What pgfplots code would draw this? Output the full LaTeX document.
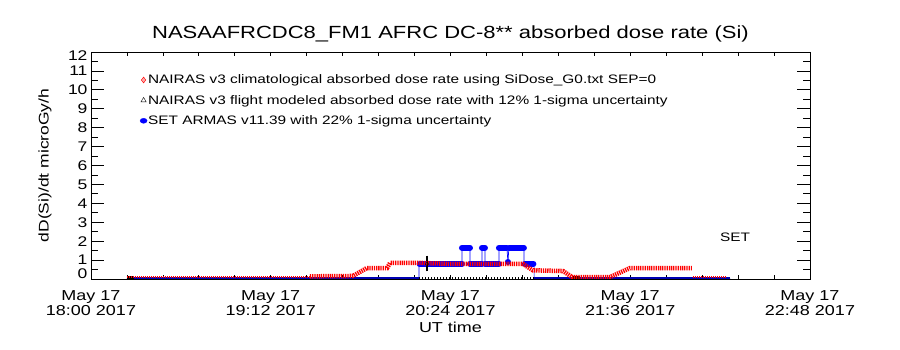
\documentclass[border=0pt]{standalone}
\usepackage{fontspec}
\setmainfont[FakeStretch=1.25]{Liberation Sans}
\usepackage{pgfplots}
\pgfplotsset{compat=1.18}
\begin{document}
\begin{tikzpicture}[x=1pt,y=1pt]
\useasboundingbox (0,0) rectangle (900,350);
\begin{axis}[
  at={(91pt,71pt)}, anchor=south west,
  width=719pt, height=227pt, scale only axis,
  xmin=0, xmax=288, ymin=0, ymax=12,
  xtick={0,72,144,216,288},
  xticklabels={{May 17\\18:00 2017},{May 17\\19:12 2017},{May 17\\20:24 2017},{May 17\\21:36 2017},{May 17\\22:48 2017}},
  minor x tick num=4,
  ytick={0,1,...,12}, minor y tick num=1,
  tick align=inside,
  major tick length=13pt, minor tick length=7pt,
  xtick style={/pgfplots/major tick length=4pt,/pgfplots/minor tick length=4pt},
  tick style={black, line width=0.8pt},
  axis line style={line width=0.8pt},
  /pgf/number format/assume math mode=true,
  xticklabel style={align=center, font=\fontsize{14.4}{15}\selectfont, yshift=-8pt},
  yticklabel style={font=\fontsize{14}{15}\selectfont, inner ysep=0pt,
    yshift={ifthenelse(\tick<0.5,5,ifthenelse(\tick>11.5,-4,0))}},
  title={NASAAFRCDC8\_FM1 AFRC DC-8** absorbed dose rate (Si)},
  title style={font=\fontsize{17.6}{20}\selectfont, anchor=base, yshift=7pt},
  xlabel={UT time},
  xlabel style={font=\fontsize{14.4}{15}\selectfont},
  ylabel={dD(Si)/dt microGy/h},
  ylabel style={font=\fontsize{14}{15}\selectfont, at={(axis description cs:-0.064,0.5)}, anchor=center},
  unbounded coords=jump,
  legend style={at={(0.068,0.905)}, anchor=north west, draw=none, fill=none,
    font=\fontsize{12.3}{14}\selectfont, row sep=8pt, inner sep=0pt,
    nodes={inner sep=1pt}},
  legend cell align=left,
  legend image code/.code={\draw[#1] plot coordinates {(0pt,0pt)};},
]
\addlegendimage{only marks, mark=diamond*, mark size=3pt, mark options={draw=red, fill=red!35}}
\addlegendentry{NAIRAS v3 climatological absorbed dose rate using SiDose\_G0.txt SEP=0}
\addlegendimage{only marks, mark=triangle, mark size=3pt, black}
\addlegendentry{NAIRAS v3 flight modeled absorbed dose rate with 12\% 1-sigma uncertainty}
\addlegendimage{only marks, mark=*, mark size=2.5pt, blue, mark options={xscale=1.4}}
\addlegendentry{SET ARMAS v11.39 with 22\% 1-sigma uncertainty}

% SET ARMAS (blue): thin connecting line
\addplot[blue, line width=0.7pt, forget plot] coordinates {(14.4,0.03) (131.4,0.03) (131.4,0.8) (148.6,0.8) (148.6,1.65) (151.8,1.65) (151.8,0.8) (156.6,0.8) (156.6,1.65) (157.8,1.65) (157.8,0.8) (163.4,0.8) (163.4,1.65) (166.6,1.65) (167.0,0.9) (167.4,1.65) (173.4,1.65) (173.4,0.8) (177.5,0.8) (177.5,0.03) (256,0.03)};
% SET ARMAS (blue): markers as thick segments
\addplot[blue, line width=6pt, line cap=round, forget plot] coordinates {(131.6,0.8) (148.6,0.8) (149,nan) (148.6,1.65) (151.8,1.65) (152,nan) (151.8,0.8) (156.6,0.8) (157,nan) (156.6,1.65) (157.8,1.65) (158,nan) (157.8,0.8) (163.4,0.8) (163.5,nan) (163.4,1.65) (166.6,1.65) (166.8,nan) (166.95,0.9) (167.05,0.9) (167.2,nan) (167.4,1.65) (173.4,1.65) (173.5,nan) (173.8,0.8) (177.2,0.8)};
\addplot[blue!70!black, line width=3pt, forget plot] coordinates {(14.4,0.05) (131.4,0.05) (140,nan) (177.5,0.05) (256,0.05)};

% NAIRAS flight modeled (black)
\addplot[black, line width=2.5pt, dash pattern=on 0.8pt off 2.2pt, forget plot] coordinates {(131.4,0.06) (177.5,0.06)};
\addplot[black, line width=3pt, forget plot] coordinates {(14.4,0.08) (17.2,0.08) (18,nan) (192.7,0.08) (195.9,0.08)};
\addplot[black, only marks, mark=triangle, mark size=2pt, forget plot,
  error bars/.cd, y dir=both, y explicit, error mark options={line width=2pt, mark size=4pt}, error bar style={line width=1.2pt}]
  coordinates {(134.6,0.82) +- (0,0.2)};

% NAIRAS climatological (red)
\addplot[red, line width=2pt, dash pattern=on 1pt off 1pt, forget plot] coordinates {(14.4,0.1) (87.7,0.1) (88,nan) (241.2,0.1) (254.8,0.1)};
\addplot[red, line width=4.5pt, dash pattern=on 1.3pt off 0.9pt, forget plot] coordinates {(87.7,0.14) (104.9,0.16) (110.5,0.58) (118.6,0.58) (119.8,0.85) (131.8,0.85) (143.8,0.8) (173.0,0.8) (177.0,0.46) (189.1,0.42) (192.7,0.1) (207.9,0.1) (215.9,0.58) (240.7,0.58)};

\node[font=\fontsize{12.3}{14}\selectfont] at (axis cs:258,2.2) {SET};
\end{axis}
\end{tikzpicture}
\end{document}
